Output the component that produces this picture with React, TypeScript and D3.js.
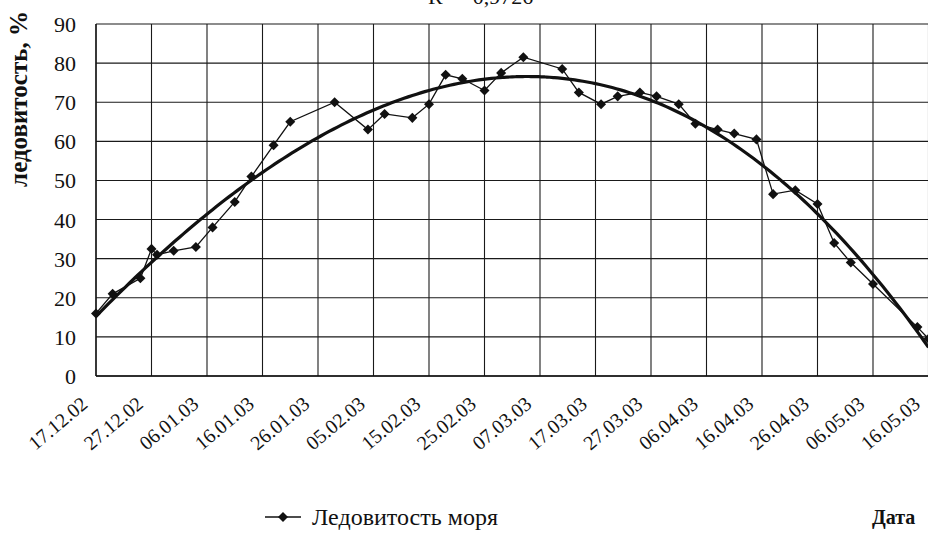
import React from "react";
import * as d3 from "d3";

const obsDates = ["17.12.02","20.12.02","25.12.02","27.12.02","28.12.02","31.12.02","04.01.03","07.01.03","11.01.03","14.01.03","18.01.03","21.01.03","29.01.03","04.02.03","07.02.03","12.02.03","15.02.03","18.02.03","21.02.03","25.02.03","28.02.03","04.03.03","11.03.03","14.03.03","18.03.03","21.03.03","25.03.03","28.03.03","01.04.03","04.04.03","08.04.03","11.04.03","15.04.03","18.04.03","22.04.03","26.04.03","29.04.03","02.05.03","06.05.03","14.05.03","16.05.03"];
const iceValues = [16,21,25,32.5,31,32,33,38,44.5,51,59,65,70,63,67,66,69.5,77,76,73,77.5,81.5,78.5,72.5,69.5,71.5,72.5,71.5,69.5,64.5,63,62,60.5,46.5,47.5,44,34,29,23.5,12.5,9.5];
const tickLabels = ["17.12.02","27.12.02","06.01.03","16.01.03","26.01.03","05.02.03","15.02.03","25.02.03","07.03.03","17.03.03","27.03.03","06.04.03","16.04.03","26.04.03","06.05.03","16.05.03"];
const yTicks = [0,10,20,30,40,50,60,70,80,90];
const seriesName = "Ледовитость моря";
const yTitle = "ледовитость, %";
const xTitle = "Дата";
const r2Text = "R² = 0,9726";

const parse = (s: string) => {
  const [d, m, y] = s.split(".").map(Number);
  return new Date(Date.UTC(2000 + y, m - 1, d));
};

function polyFit(xs: number[], ys: number[], order: number) {
  const n = order + 1;
  const A: number[][] = Array.from({ length: n }, () => new Array(n + 1).fill(0));
  xs.forEach((x, k) => {
    for (let i = 0; i < n; i++) {
      for (let j = 0; j < n; j++) A[i][j] += Math.pow(x, i + j);
      A[i][n] += Math.pow(x, i) * ys[k];
    }
  });
  for (let i = 0; i < n; i++) {
    let p = i;
    for (let r = i + 1; r < n; r++) if (Math.abs(A[r][i]) > Math.abs(A[p][i])) p = r;
    [A[i], A[p]] = [A[p], A[i]];
    for (let r = 0; r < n; r++) {
      if (r === i) continue;
      const f = A[r][i] / A[i][i];
      for (let c = i; c <= n; c++) A[r][c] -= f * A[i][c];
    }
  }
  return A.map((row, i) => row[n] / row[i]);
}

const squareDiamond = {
  draw(ctx: any, size: number) {
    const r = Math.sqrt(size) / 2 * 1.2;
    ctx.moveTo(0, -r);
    ctx.lineTo(r, 0);
    ctx.lineTo(0, r);
    ctx.lineTo(-r, 0);
    ctx.closePath();
  },
};

export default function App() {
  const W = 928, H = 541;
  const left = 96, top = 24, bottom = 376;
  const t0 = parse(tickLabels[0]);
  const tEnd = parse(tickLabels[tickLabels.length - 1]);
  const x = d3.scaleUtc().domain([t0, tEnd]).range([left, 928.5]);
  const y = d3.scaleLinear().domain([0, 90]).range([bottom, top]);

  const data = obsDates.map((d, i) => ({ date: parse(d), v: iceValues[i] }));
  const dayMs = 86400000;
  const span = (tEnd.getTime() - t0.getTime()) / dayMs;
  const xs = data.map((d) => (d.date.getTime() - t0.getTime()) / dayMs / span);
  const coef = polyFit(xs, data.map((d) => d.v), 3);
  const trend = d3.range(0, 1.0001, 0.005).map((u) => ({
    date: new Date(t0.getTime() + u * span * dayMs),
    v: coef.reduce((s, c, i) => s + c * Math.pow(u, i), 0),
  }));

  const line = d3.line<{ date: Date; v: number }>().x((d) => x(d.date)).y((d) => y(d.v));
  const trendLine = d3.line<{ date: Date; v: number }>().x((d) => x(d.date)).y((d) => y(d.v)).curve(d3.curveBasis);
  const diamond = d3.symbol().type(squareDiamond as any).size(70)();

  const serif = "'Liberation Serif', 'Times New Roman', serif";

  return (
    <svg width={W} height={H} style={{ position: "absolute", left: 0, top: 0, background: "#fff" }} fontFamily={serif}>
      <rect x={0} y={0} width={W} height={H} fill="#fff" />
      <text x={428} y={4} fontSize={22} fill="#111">{r2Text}</text>
      {/* grid */}
      {yTicks.map((t) => (
        <line key={"h" + t} x1={left} x2={W} y1={y(t)} y2={y(t)} stroke="#1a1a1a" strokeWidth={1.1} />
      ))}
      {tickLabels.map((t) => (
        <line key={"v" + t} x1={x(parse(t))} x2={x(parse(t))} y1={top} y2={bottom} stroke="#1a1a1a" strokeWidth={1.1} />
      ))}
      <line x1={left} x2={left} y1={top} y2={bottom} stroke="#111" strokeWidth={1.3} />
      <line x1={left} x2={W} y1={bottom} y2={bottom} stroke="#111" strokeWidth={1.5} />
      {/* y ticks */}
      {yTicks.map((t) => (
        <text key={"yl" + t} x={76} y={y(t) + 8} textAnchor="end" fontSize={22} fill="#111">{t}</text>
      ))}
      {/* x ticks */}
      {tickLabels.map((t) => (
        <text key={"xl" + t} transform={`translate(${x(parse(t)) - 7},${bottom + 30}) rotate(-40)`} textAnchor="end" fontSize={20} fill="#111">{t}</text>
      ))}
      {/* series */}
      <path d={line(data) || ""} fill="none" stroke="#111" strokeWidth={1.3} />
      {data.map((d, i) => (
        <path key={"m" + i} d={diamond || ""} transform={`translate(${x(d.date)},${y(d.v)})`} fill="#111" />
      ))}
      <path d={trendLine(trend) || ""} fill="none" stroke="#111" strokeWidth={3.2} />
      {/* y title */}
      <text transform={`translate(27,99) rotate(-90)`} textAnchor="middle" fontSize={25} fontWeight="bold" fill="#111">{yTitle}</text>
      {/* legend */}
      <line x1={265} x2={301} y1={517} y2={517} stroke="#111" strokeWidth={1.5} />
      <path d={diamond || ""} transform="translate(283,517)" fill="#111" />
      <text x={312} y={525} fontSize={24} fill="#111">{seriesName}</text>
      <text x={872} y={524} fontSize={20} fontWeight="bold" fill="#111">{xTitle}</text>
    </svg>
  );
}
